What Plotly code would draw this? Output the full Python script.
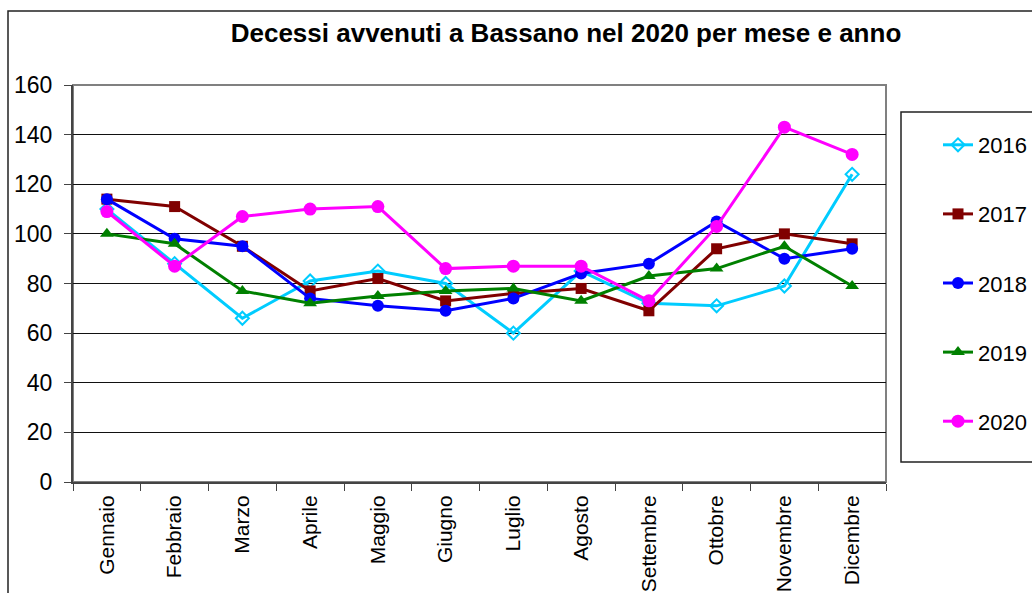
import plotly.graph_objects as go

months = ["Gennaio", "Febbraio", "Marzo", "Aprile", "Maggio", "Giugno",
          "Luglio", "Agosto", "Settembre", "Ottobre", "Novembre", "Dicembre"]
years = ["2016", "2017", "2018", "2019", "2020"]

d2016 = [110, 88, 66, 81, 85, 80, 60, 85, 72, 71, 79, 124]
d2017 = [114, 111, 95, 77, 82, 73, 76, 78, 69, 94, 100, 96]
d2018 = [114, 98, 95, 74, 71, 69, 74, 84, 88, 105, 90, 94]
d2019 = [100, 96, 77, 72, 75, 77, 78, 73, 83, 86, 95, 79]
d2020 = [109, 87, 107, 110, 111, 86, 87, 87, 73, 103, 143, 132]

series = [d2016, d2017, d2018, d2019, d2020]
colors = ["#00CCFF", "#800000", "#0000FF", "#008000", "#FF00FF"]
symbols = ["diamond-open", "square", "circle", "triangle-up", "circle"]
msizes = [10, 11, 12, 12, 13]

FONT = "Liberation Sans, Arial, sans-serif"

fig = go.Figure()
for name, vals, c, s, ms in zip(years, series, colors, symbols, msizes):
    fig.add_trace(go.Scatter(
        x=months, y=vals, name=name, mode="lines+markers",
        legendgroup=name,
        line=dict(color=c, width=3),
        marker=dict(symbol=s, size=ms, color=c,
                    line=dict(color=c, width=2 if s == "diamond-open" else 0)),
    ))

W, H = 1032, 593
L, R, T, B = 73, 886, 85, 482
pw, ph = R - L, B - T


def px(x):
    return (x - L) / pw


def py(y):
    return (B - y) / ph


shapes = [
    # plot-area border (gray)
    dict(type="rect", xref="paper", yref="paper", x0=0, x1=1, y0=0, y1=1,
         line=dict(color="#808080", width=2), layer="below"),
    # outer chart border
    dict(type="rect", xref="paper", yref="paper", x0=px(8), x1=px(1060),
         y0=py(620), y1=py(11), line=dict(color="#222222", width=1.5)),
    # legend box
    dict(type="rect", xref="paper", yref="paper", x0=px(901), x1=px(1060),
         y0=py(462), y1=py(112), line=dict(color="#222222", width=1.5)),
]

fig.update_layout(
    width=W, height=H, autosize=False,
    margin=dict(l=L, r=W - R, t=T, b=H - B, pad=0, autoexpand=False),
    paper_bgcolor="white", plot_bgcolor="white",
    font=dict(family=FONT, color="black"),
    title=dict(text="<b>Decessi avvenuti a Bassano nel 2020 per mese e anno</b>",
               x=566 / W, xanchor="center", y=1 - 33 / H, yanchor="middle",
               xref="container", yref="container",
               font=dict(family=FONT, size=26, color="black")),
    shapes=shapes,
    showlegend=True,
    legend=dict(x=px(938), xanchor="left", y=py(124), yanchor="top",
                font=dict(family=FONT, size=22, color="black"),
                bgcolor="rgba(0,0,0,0)", borderwidth=0,
                tracegroupgap=37.5, traceorder="grouped"),
    xaxis=dict(type="category", range=[-0.5, 11.5], tickson="boundaries",
               ticks="outside", ticklen=7, tickcolor="#444444",
               tickangle=-90, tickfont=dict(family=FONT, size=21),
               showline=True, linecolor="#444444", linewidth=2,
               showgrid=False, zeroline=False, ticklabelstandoff=3,
               automargin=False),
    yaxis=dict(range=[0, 160], tick0=0, dtick=20,
               ticks="outside", ticklen=7, tickcolor="#444444",
               tickfont=dict(family=FONT, size=23),
               showline=True, linecolor="#444444", linewidth=2,
               showgrid=True, gridcolor="#111111", gridwidth=1,
               zeroline=False, ticklabelstandoff=7, automargin=False),
)

fig.write_html("out.html",
               config={"displayModeBar": False},
               post_script="document.body.style.margin='0px';"
                           "document.body.style.overflow='hidden';")
